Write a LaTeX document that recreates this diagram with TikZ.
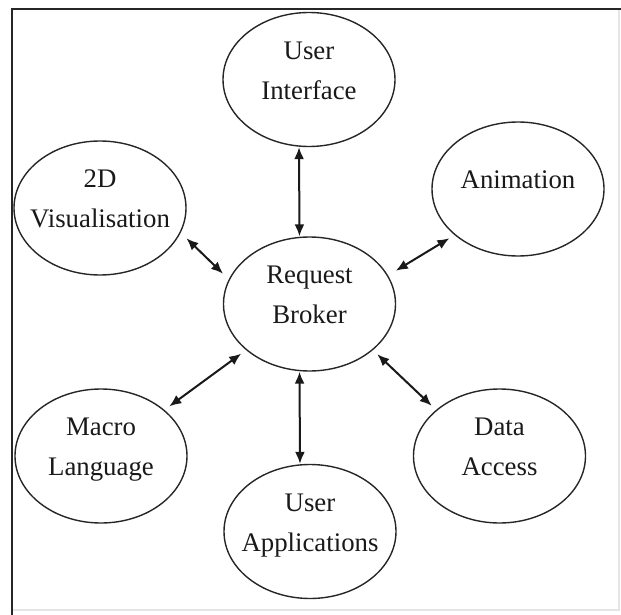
\documentclass[tikz,border=0pt]{standalone}
\usepackage{fontspec}
\setmainfont{Liberation Serif}
\usetikzlibrary{shapes.geometric,arrows.meta}

\begin{document}
\begin{tikzpicture}[x=5pt,y=5pt]
            \tikzstyle{every node}+=[inner sep=0pt]
            \tikzstyle{blob}=[draw=black!85, line width=0.7pt, ellipse, minimum width=86pt, minimum height=67pt, inner xsep=-8pt, align=center, text=black!90, font=\fontsize{13.4}{20}\selectfont, execute at end node={\rule[-9pt]{0pt}{1pt}}]
            \tikzstyle{link}=[black!90, line width=1pt, {Latex[length=6pt,width=5pt]}-{Latex[length=6pt,width=5pt]}]
            \useasboundingbox (0,0) rectangle (62.1,-61.5);
            \draw [black!10, line width=0.8pt] (61.9,-0.9) -- (61.9,-61.0) -- (1.2,-61.0);
            \draw [black!85, line width=1.2pt] (1.2,-61.5) -- (1.2,-0.9) -- (62.1,-0.9);
            \node [blob] (ui) at (30.9,-7.95) {User\\Interface};
            \node [blob] (vis) at (10.0,-20.8) {2D\\Visualisation};
            \node [blob] (ani) at (51.8,-18.9) {Animation};
            \node [blob] (rb) at (30.95,-30.4) {Request\\Broker};
            \node [blob] (mac) at (10.1,-45.6) {Macro\\Language};
            \node [blob] (dat) at (49.95,-45.6) {Data\\Access};
            \node [blob] (ua) at (31.0,-53.15) {User\\Applications};
            \draw [link] ([xshift=-5pt]ui.south) -- ([xshift=-5pt]rb.north);
            \draw [link] ([xshift=-5pt]rb.south) -- ([xshift=-5pt]ua.north);
            \draw [link, shorten <=4pt, shorten >=4pt] (vis.-17) -- (rb.163);
            \draw [link, shorten <=4.5pt, shorten >=3pt] (rb.20) -- (ani.216);
            \draw [link, shorten <=3pt, shorten >=3pt] (rb.216) -- (mac.36);
            \draw [link, shorten <=3pt, shorten >=3pt] (rb.324) -- (dat.144);
        \end{tikzpicture}
\end{document}
